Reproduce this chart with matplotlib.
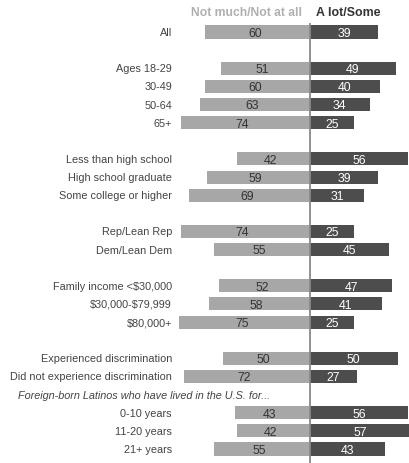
import matplotlib
matplotlib.use("Agg")
import matplotlib.pyplot as plt

# Row labels (None marks a blank spacer row, header rows handled separately)
labels = ["All", None,
          "Ages 18-29", "30-49", "50-64", "65+", None,
          "Less than high school", "High school graduate", "Some college or higher", None,
          "Rep/Lean Rep", "Dem/Lean Dem", None,
          "Family income <$30,000", "$30,000-$79,999", "$80,000+", None,
          "Experienced discrimination", "Did not experience discrimination",
          "Foreign-born Latinos who have lived in the U.S. for...",
          "0-10 years", "11-20 years", "21+ years"]
not_much = [60, None, 51, 60, 63, 74, None, 42, 59, 69, None, 74, 55, None,
            52, 58, 75, None, 50, 72, None, 43, 42, 55]
a_lot = [39, None, 49, 40, 34, 25, None, 56, 39, 31, None, 25, 45, None,
         47, 41, 25, None, 50, 27, None, 56, 57, 43]
header_left = "Not much/Not at all"
header_right = "A lot/Some"
subheader_row = 20

W, H = 409, 464
fig = plt.figure(figsize=(W / 100, H / 100), dpi=100)
ax = fig.add_axes([0, 0, 1, 1])
ax.set_axis_off()

px = 1.75          # pixels per percentage point
cx = 310           # center line pixel
row0, drow = 33, 18.13
ax.set_xlim(-cx / px, (W - cx) / px)
ax.set_ylim((H - row0) / drow, -row0 / drow)

light = "#a7a7a7"
dark = "#4d4d4d"
bh = 0.72
fs = 7.8
family = ["Liberation Sans", "DejaVu Sans"]

for i, lab in enumerate(labels):
    if lab is None:
        continue
    if i == subheader_row:
        ax.text(-(cx - 18) / px, i, lab, ha="left", va="center", fontsize=fs,
                style="italic", color="#444444", family=family, parse_math=False)
        continue
    ax.text(-(cx - 172) / px, i, lab, ha="right", va="center", fontsize=fs,
            color="#444444", family=family, parse_math=False)
    v1, v2 = not_much[i], a_lot[i]
    ax.barh(i, -v1, height=bh, color=light, edgecolor="none")
    ax.barh(i, v2, height=bh, color=dark, edgecolor="none")
    ax.text(-v1 / 2 - 1.5, i + 0.05, str(v1), ha="center", va="center",
            fontsize=8.8, color="#333333", family=family)
    ax.text(v2 / 2, i + 0.05, str(v2), ha="center", va="center",
            fontsize=8.8, color="white", family=family)

ax.axvline(0, ymin=0, ymax=(H - 25) / H, color="#888888", lw=1.3)

ax.text(-(cx - 302) / px, -1.1, header_left, ha="right", va="center",
        fontsize=8.7, fontweight="bold", color="#b0b0b0", family=family)
ax.text(6 / px, -1.1, header_right, ha="left", va="center",
        fontsize=8.9, fontweight="bold", color="#333333", family=family)

fig.savefig("out.png", dpi=100, facecolor="white")
